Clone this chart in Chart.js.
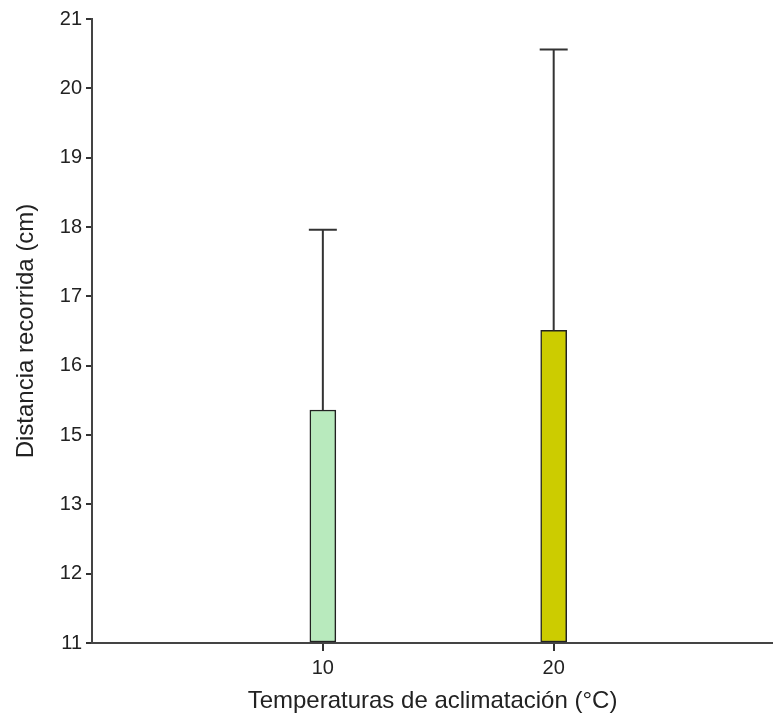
<!DOCTYPE html>
<html>
<head>
<meta charset="utf-8">
<script src="https://cdn.jsdelivr.net/npm/chart.js@4.4.0/dist/chart.umd.min.js"></script>
<style>
  html, body { margin: 0; padding: 0; background: #fff; }
  #wrap { width: 773px; height: 717px; position: relative; }
</style>
</head>
<body>
<div id="wrap"><canvas id="barChart"></canvas></div>
<script>
// temperatures (x positions) and measured means with their upper error bar
const temperatures = [10, 20];
const means = [15.36, 16.51];
const upperErr = [17.96, 20.56];
const barColors = ["#b8eabd", "#cccc00"];
// tick labels as printed on the original axis (14 is not there)
const yTickLabels = [11, 12, 13, 15, 16, 17, 18, 19, 20, 21];

// map a value onto the evenly spaced tick slots
function toPos(v) {
  for (let i = 0; i < yTickLabels.length - 1; i++) {
    const a = yTickLabels[i], b = yTickLabels[i + 1];
    if (v >= a && v <= b) return i + (v - a) / (b - a);
  }
  return v < yTickLabels[0] ? 0 : yTickLabels.length - 1;
}

const errorBars = {
  id: "errorBars",
  afterDatasetsDraw(chart) {
    const ctx = chart.ctx;
    const yScale = chart.scales.y;
    const meta = chart.getDatasetMeta(0);
    ctx.save();
    ctx.strokeStyle = "#333";
    ctx.lineWidth = 2;
    meta.data.forEach(function (bar, i) {
      const top = yScale.getPixelForValue(toPos(upperErr[i]));
      const half = 14;
      ctx.beginPath();
      ctx.moveTo(bar.x, bar.y);
      ctx.lineTo(bar.x, top);
      ctx.moveTo(bar.x - half, top);
      ctx.lineTo(bar.x + half, top);
      ctx.stroke();
    });
    ctx.restore();
  },
};

const family = "'Liberation Sans', Arial, sans-serif";
const tickFont = { family: family, size: 20 };
const titleFont = { family: family, size: 24 };

const ctx = document.getElementById("barChart").getContext("2d");
const myChart = new Chart(ctx, {
  type: "bar",
  data: {
    datasets: [{
      data: temperatures.map((t, i) => ({ x: t, y: [0, toPos(means[i])] })),
      backgroundColor: barColors,
      borderColor: "#222",
      borderWidth: 1.5,
      borderSkipped: false,
      barThickness: 26,
    }],
  },
  options: {
    responsive: true,
    maintainAspectRatio: false,
    animation: false,
    layout: { padding: { top: 19, right: 0, bottom: 0, left: 0 } },
    plugins: { legend: { display: false }, tooltip: { enabled: false } },
    scales: {
      x: {
        type: "linear",
        min: 0,
        max: 29.5,
        offset: false,
        afterBuildTicks: (scale) => { scale.ticks = temperatures.map(v => ({ value: v })); },
        afterFit: (scale) => { scale.height = 74; },
        grid: { offset: false, drawOnChartArea: false, drawTicks: true, tickLength: 8, color: "#333", lineWidth: 2 },
        border: { display: true, color: "#444", width: 2 },
        ticks: { color: "#222", font: tickFont, padding: 5, maxRotation: 0 },
        title: {
          display: true,
          text: "Temperaturas de aclimatación (°C)",
          color: "#222",
          font: titleFont,
          padding: { top: 0, bottom: 1 },
        },
      },
      y: {
        min: 0,
        max: yTickLabels.length - 1,
        afterBuildTicks: (scale) => { scale.ticks = yTickLabels.map((_, i) => ({ value: i })); },
        afterFit: (scale) => { scale.width = 92; },
        grid: { drawOnChartArea: false, drawTicks: true, tickLength: 6, color: "#333", lineWidth: 2 },
        border: { display: true, color: "#444", width: 2 },
        ticks: {
          color: "#222",
          font: tickFont,
          padding: 4,
          callback: (value) => yTickLabels[value],
        },
        title: {
          display: true,
          text: "Distancia recorrida (cm)",
          color: "#222",
          font: titleFont,
          padding: { top: 12, bottom: 0 },
        },
      },
    },
  },
  plugins: [errorBars],
});
</script>
</body>
</html>
